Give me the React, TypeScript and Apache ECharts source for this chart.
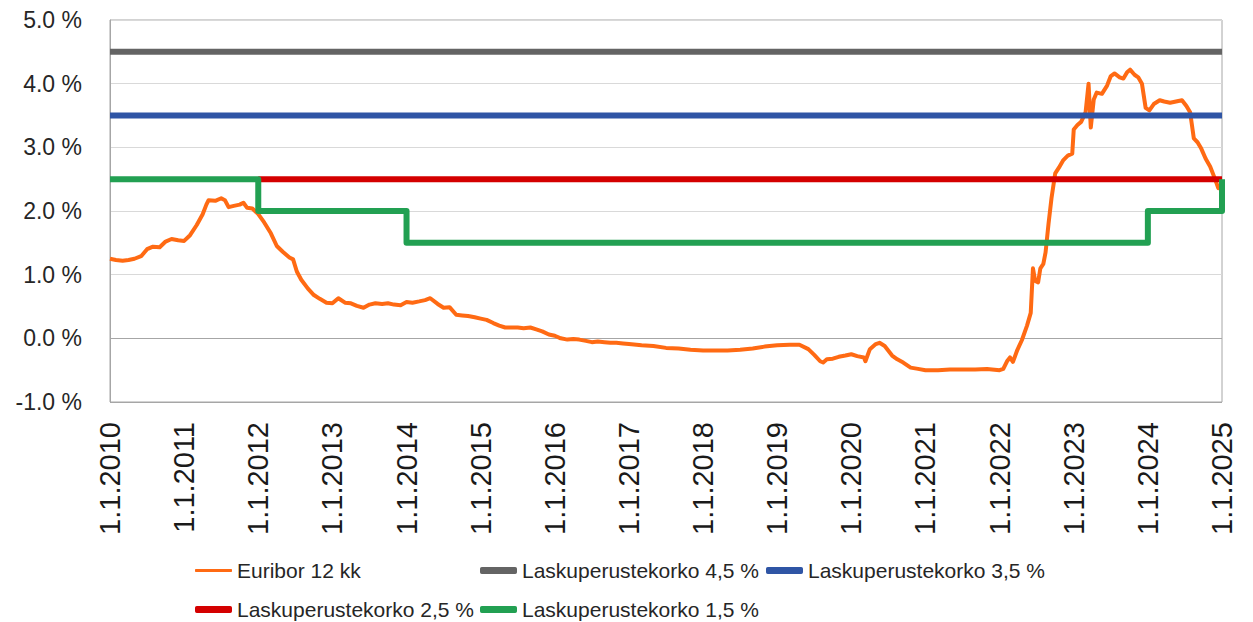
import React, { useEffect, useRef } from "react";
import * as echarts from "echarts";

// Euribor 12 kk (x = decimal year, y = %)
const euriborDates = [
  2010.0, 2010.08, 2010.17, 2010.25, 2010.33, 2010.42, 2010.5, 2010.58, 2010.67, 2010.75, 2010.83, 2010.92,
  2011.0, 2011.08, 2011.17, 2011.25, 2011.3, 2011.33, 2011.42, 2011.5, 2011.55, 2011.6, 2011.67, 2011.75, 2011.8, 2011.85, 2011.92,
  2012.0, 2012.08, 2012.17, 2012.25, 2012.33, 2012.42, 2012.47, 2012.52, 2012.58, 2012.67, 2012.75, 2012.83, 2012.92,
  2013.0, 2013.08, 2013.17, 2013.25, 2013.33, 2013.42, 2013.5, 2013.58, 2013.67, 2013.75, 2013.83, 2013.92,
  2014.0, 2014.08, 2014.17, 2014.25, 2014.32, 2014.42, 2014.5, 2014.58, 2014.67, 2014.75, 2014.83, 2014.92,
  2015.0, 2015.08, 2015.17, 2015.25, 2015.33, 2015.42, 2015.5, 2015.58, 2015.67, 2015.75, 2015.83, 2015.92,
  2016.0, 2016.08, 2016.17, 2016.25, 2016.33, 2016.42, 2016.5, 2016.58, 2016.67, 2016.75, 2016.83, 2016.92,
  2017.0, 2017.17, 2017.33, 2017.5, 2017.67, 2017.83,
  2018.0, 2018.17, 2018.33, 2018.5, 2018.67, 2018.83,
  2019.0, 2019.17, 2019.3, 2019.42, 2019.5, 2019.58, 2019.62, 2019.67, 2019.75, 2019.83, 2019.92,
  2020.0, 2020.08, 2020.17, 2020.19, 2020.25, 2020.33, 2020.38, 2020.45, 2020.55, 2020.62, 2020.7, 2020.8, 2020.9,
  2021.0, 2021.17, 2021.33, 2021.5, 2021.67, 2021.83,
  2022.0, 2022.05, 2022.1, 2022.14, 2022.18, 2022.24, 2022.3, 2022.37, 2022.42, 2022.45, 2022.48, 2022.52, 2022.55,
  2022.59, 2022.62, 2022.66, 2022.7, 2022.75, 2022.8, 2022.86, 2022.92, 2022.98,
  2023.0, 2023.05, 2023.1, 2023.16, 2023.2, 2023.23, 2023.27, 2023.31, 2023.38, 2023.45, 2023.5, 2023.55, 2023.62,
  2023.67, 2023.72, 2023.76, 2023.82, 2023.87, 2023.92, 2023.97,
  2024.02, 2024.08, 2024.16, 2024.22, 2024.3, 2024.38, 2024.46, 2024.52, 2024.57, 2024.62, 2024.67, 2024.72,
  2024.78, 2024.84, 2024.9, 2024.95, 2024.97,
];
const euriborRates = [
  1.25, 1.23, 1.22, 1.23, 1.25, 1.29, 1.4, 1.44, 1.43, 1.52, 1.56, 1.54,
  1.53, 1.62, 1.78, 1.95, 2.1, 2.17, 2.16, 2.2, 2.17, 2.06, 2.08, 2.1, 2.13, 2.05, 2.04,
  1.95, 1.82, 1.65, 1.45, 1.36, 1.27, 1.24, 1.05, 0.92, 0.78, 0.68, 0.62, 0.56,
  0.55, 0.63, 0.56, 0.55, 0.51, 0.48, 0.53, 0.55, 0.54, 0.55, 0.53, 0.52,
  0.57, 0.56, 0.58, 0.6, 0.63, 0.54, 0.48, 0.49, 0.37, 0.36, 0.35, 0.33,
  0.31, 0.29, 0.24, 0.2, 0.17, 0.17, 0.17, 0.16, 0.17, 0.14, 0.11, 0.06,
  0.04, 0.0, -0.02, -0.01, -0.02, -0.04, -0.06, -0.05, -0.06, -0.07, -0.07, -0.08,
  -0.09, -0.11, -0.12, -0.15, -0.16, -0.18,
  -0.19, -0.19, -0.19, -0.18, -0.16, -0.13,
  -0.11, -0.1, -0.1, -0.17, -0.26, -0.36, -0.38, -0.33, -0.32, -0.29, -0.27,
  -0.25, -0.28, -0.3, -0.36, -0.17, -0.09, -0.07, -0.12, -0.27, -0.33, -0.38, -0.46, -0.48,
  -0.5, -0.5, -0.49, -0.49, -0.49, -0.48,
  -0.5, -0.48, -0.36, -0.3, -0.37, -0.18, -0.03, 0.2, 0.4, 1.1, 0.9, 0.88, 1.1,
  1.17, 1.35, 1.8, 2.2, 2.59, 2.68, 2.8, 2.87, 2.9,
  3.28, 3.35, 3.4, 3.55, 4.0, 3.31, 3.75, 3.86, 3.84, 3.97, 4.12, 4.16, 4.1,
  4.08, 4.18, 4.22, 4.14, 4.1, 4.0, 3.62,
  3.58, 3.68, 3.74, 3.72, 3.7, 3.72, 3.74, 3.65, 3.55, 3.14, 3.08, 2.98,
  2.82, 2.7, 2.52, 2.36, 2.42,
];

// Laskuperustekorko lines
const rate45Dates = [2010, 2025];
const rate45Values = [4.5, 4.5];
const rate35Dates = [2010, 2025];
const rate35Values = [3.5, 3.5];
const rate25Dates = [2012, 2025];
const rate25Values = [2.5, 2.5];
// 1,5 % line: level changes (step: value holds until next date)
const rate15Dates = [2010, 2012, 2014, 2024, 2025];
const rate15Values = [2.5, 2.0, 1.5, 2.0, 2.5];

const seriesNames = [
  "Euribor 12 kk",
  "Laskuperustekorko 4,5 %",
  "Laskuperustekorko 3,5 %",
  "Laskuperustekorko 2,5 %",
  "Laskuperustekorko 1,5 %",
];
const yTicks = [-1, 0, 1, 2, 3, 4, 5];
const xStart = 2010;
const xEnd = 2025;

const zip = (xs: number[], ys: number[]) => xs.map((x, i) => [x, ys[i]]);

export default function App() {
  const ref = useRef<HTMLDivElement>(null);
  useEffect(() => {
    if (!ref.current) return;
    const chart = echarts.init(ref.current, undefined, { renderer: "svg" });
    const colors = ["#FF6A13", "#646464", "#2F55A5", "#D40000", "#22A052"];
    const legendFont = {
      fontSize: 21,
      fontFamily: "Liberation Sans",
      color: "#262626",
    };
    const mkLegend = (name: string, left: number, top: number, h: number) => ({
      left,
      top,
      orient: "horizontal",
      padding: 0,
      itemWidth: 37,
      itemHeight: h,
      itemGap: 0,
      selectedMode: false,
      icon: "roundRect",
      data: [name],
      textStyle: legendFont,
    });
    chart.setOption({
      animation: false,
      color: colors,
      grid: {
        left: 110,
        right: 31,
        top: 20,
        bottom: 220,
        show: true,
        borderColor: "#A6A6A6",
        borderWidth: 1,
      },
      legend: [
        mkLegend(seriesNames[0], 195, 560, 3),
        mkLegend(seriesNames[1], 480, 560, 7),
        mkLegend(seriesNames[2], 766, 560, 7),
        mkLegend(seriesNames[3], 195, 599, 7),
        mkLegend(seriesNames[4], 480, 599, 7),
      ],
      xAxis: {
        type: "value",
        min: xStart,
        max: xEnd,
        interval: 1,
        axisLine: { show: false },
        axisTick: { show: false },
        splitLine: { show: false },
        axisLabel: {
          rotate: 90,
          margin: 20,
          fontSize: 29,
          fontFamily: "Liberation Sans",
          color: "#1a1a1a",
          formatter: (v: number) => `1.1.${v}`,
        },
      },
      yAxis: {
        type: "value",
        min: yTicks[0],
        max: yTicks[yTicks.length - 1],
        interval: 1,
        axisLine: { show: true, lineStyle: { color: "#A6A6A6", width: 1 } },
        axisTick: { show: false },
        splitLine: {
          show: true,
          lineStyle: {
            color: ["#A6A6A6", "#A6A6A6", "#D9D9D9", "#D9D9D9", "#D9D9D9", "#D9D9D9", "#D9D9D9"],
            width: 1,
          },
        },
        axisLabel: {
          margin: 28,
          fontSize: 23,
          fontFamily: "Liberation Sans",
          color: "#262626",
          formatter: (v: number) => `${v.toFixed(1)} %`,
        },
      },
      series: [
        {
          name: seriesNames[0],
          type: "line",
          showSymbol: false,
          symbol: "none",
          data: zip(euriborDates, euriborRates),
          lineStyle: { width: 4, color: colors[0], join: "round" },
          z: 2,
        },
        {
          name: seriesNames[1],
          type: "line",
          showSymbol: false,
          symbol: "none",
          data: zip(rate45Dates, rate45Values),
          lineStyle: { width: 6, color: colors[1] },
          z: 3,
        },
        {
          name: seriesNames[2],
          type: "line",
          showSymbol: false,
          symbol: "none",
          data: zip(rate35Dates, rate35Values),
          lineStyle: { width: 6, color: colors[2] },
          z: 3,
        },
        {
          name: seriesNames[3],
          type: "line",
          showSymbol: false,
          symbol: "none",
          data: zip(rate25Dates, rate25Values),
          lineStyle: { width: 6, color: colors[3] },
          z: 3,
        },
        {
          name: seriesNames[4],
          type: "line",
          showSymbol: false,
          symbol: "none",
          step: "end",
          data: zip(rate15Dates, rate15Values),
          lineStyle: { width: 6, color: colors[4], join: "round" },
          z: 4,
        },
      ],
    });
    return () => chart.dispose();
  }, []);
  return (
    <div
      ref={ref}
      style={{ position: "fixed", left: 0, top: 0, width: 1253, height: 622, background: "#fff" }}
    />
  );
}
